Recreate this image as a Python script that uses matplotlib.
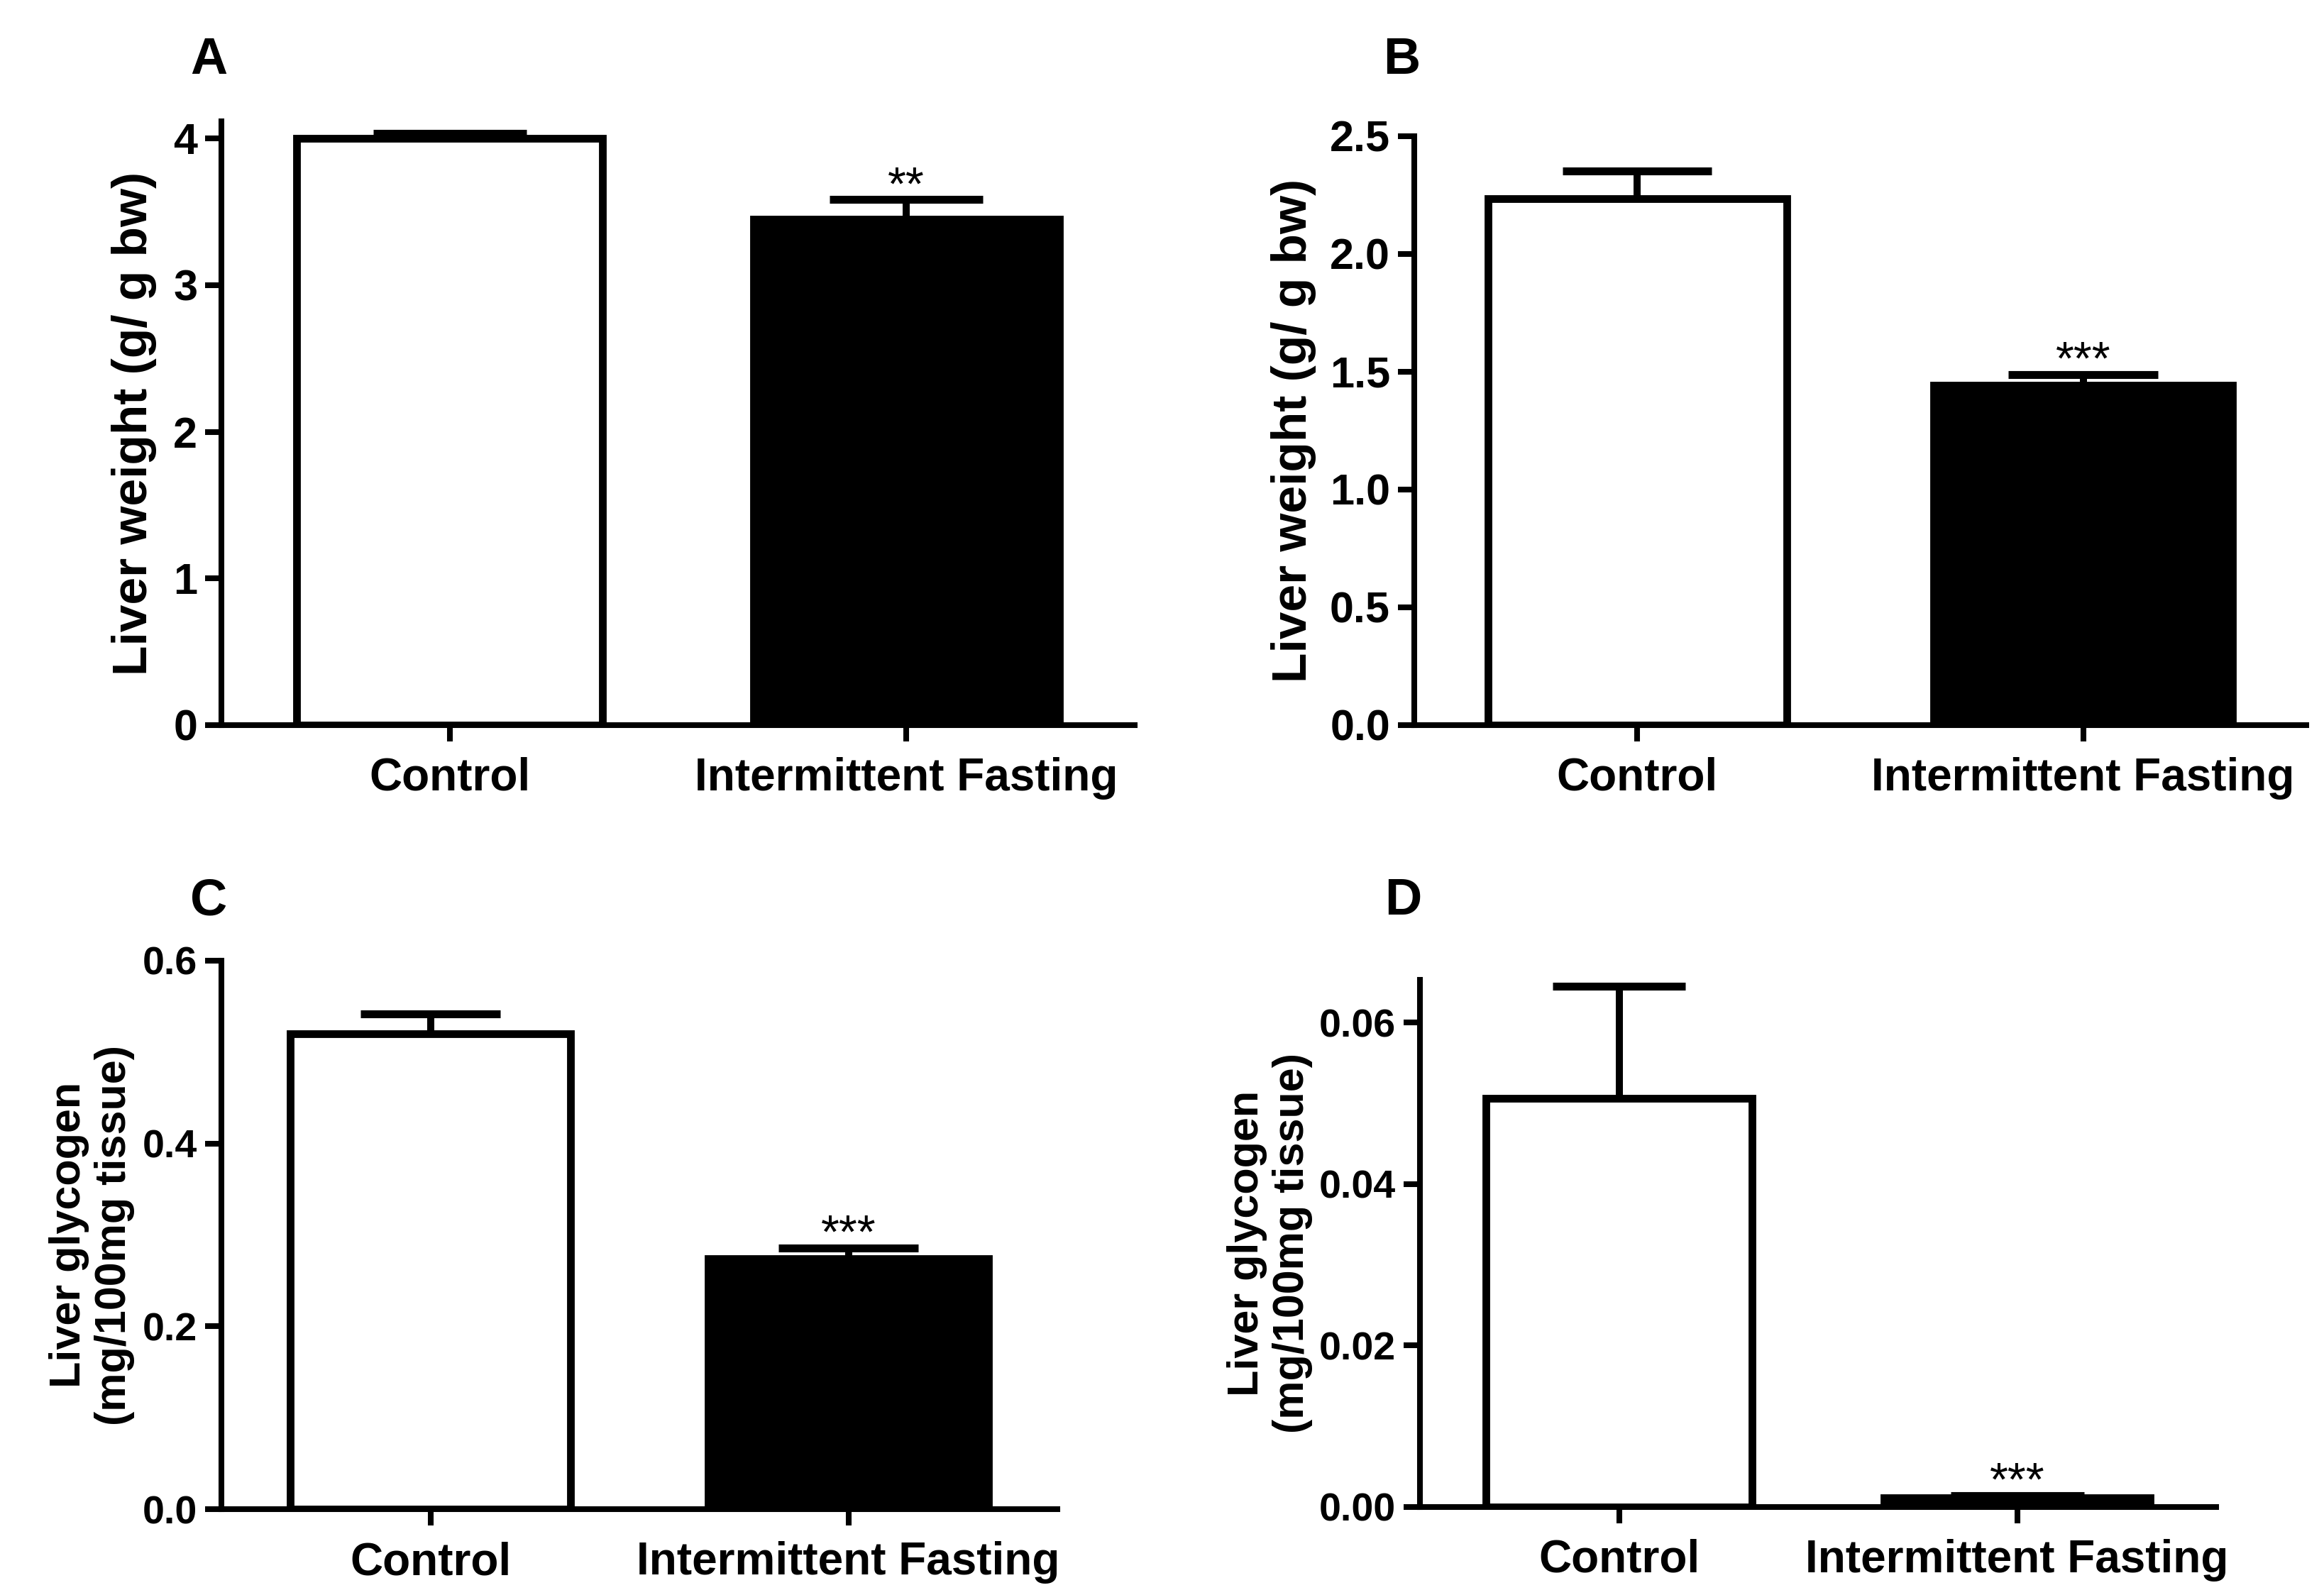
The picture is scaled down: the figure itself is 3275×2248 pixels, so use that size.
import matplotlib as mpl

mpl.use('agg')

import matplotlib.pyplot as plt
from matplotlib.ticker import FormatStrFormatter

plt.rc('font', family = ['Liberation Sans', 'DejaVu Sans'], weight = 'bold')

groups = ['Control', 'Intermittent Fasting']

# panel A: liver weight
a_mean = [4.00, 3.45]
a_sem  = [0.035, 0.135]
a_star = ['', '**']

# panel B: liver weight
b_mean = [2.235, 1.442]
b_sem  = [0.117, 0.047]
b_star = ['', '***']

# panel C: liver glycogen
c_mean = [0.520, 0.274]
c_sem  = [0.022, 0.012]
c_star = ['', '***']

# panel D: liver glycogen
d_mean = [0.0506, 0.0011]
d_sem  = [0.0139, 0.0003]
d_star = ['', '***']

fills = ['white', 'black']
bar_w = 0.67

fig = plt.figure(figsize=(16.375, 11.24), dpi=200)

panels = [
    ('A', [0.0953, 0.5454, 0.3929, 0.3785], a_mean, a_sem, a_star, 4.117,
     [0, 1, 2, 3, 4], '%d', 22, 'Liver weight (g/ g bw)', 25, -0.071, (0.0898, 0.962)),
    ('B', [0.6085, 0.5454, 0.3838, 0.3692], b_mean, b_sem, b_star, 2.5,
     [0.0, 0.5, 1.0, 1.5, 2.0, 2.5], '%.1f', 22, 'Liver weight (g/ g bw)', 25, -0.110, (0.603, 0.962)),
    ('C', [0.0953, 0.0538, 0.3597, 0.3439], c_mean, c_sem, c_star, 0.6,
     [0.0, 0.2, 0.4, 0.6], '%.1f', 20, 'Liver glycogen\n(mg/100mg tissue)', 22, -0.104, (0.0898, 0.435)),
    ('D', [0.6110, 0.0552, 0.3426, 0.3305], d_mean, d_sem, d_star, 0.0653,
     [0.00, 0.02, 0.04, 0.06], '%.2f', 20, 'Liver glycogen\n(mg/100mg tissue)', 22, -0.135, (0.6037, 0.435)),
]

for letter, rect, mean, sem, stars, ytop, yt, fmt, tsize, ylab, ysize, ylx, lpos in panels:
    ax = fig.add_axes(rect)
    x = list(range(len(groups)))
    ax.bar(x, mean, width = bar_w, color = fills, edgecolor = 'black',
           linewidth = 3.9, zorder = 2)
    tops = [m + s for m, s in zip(mean, sem)]
    ax.vlines(x, mean, tops, color = 'black', linewidth = 3.6, zorder = 3)
    ax.hlines(tops, [i - bar_w / 4 for i in x], [i + bar_w / 4 for i in x],
              color = 'black', linewidth = 4.0, zorder = 3)
    for i, s in enumerate(stars):
        if s:
            ax.annotate(s, (x[i], tops[i]), ha = 'center', va = 'baseline',
                        fontsize = 24, fontweight = 'normal')

    ax.set_xlim(-0.5, 1.5)
    ax.set_ylim(0, ytop)
    ax.set_yticks(yt)
    ax.yaxis.set_major_formatter(FormatStrFormatter(fmt))
    ax.set_xticks(x)
    ax.set_xticklabels(groups, fontsize = 23, fontweight = 'bold')
    for lab in ax.get_yticklabels():
        lab.set_fontsize(tsize)
        lab.set_fontweight('bold')

    for side in ['top', 'right']:
        ax.spines[side].set_visible(False)
    for side in ['left', 'bottom']:
        ax.spines[side].set_linewidth(2.9)
    ax.tick_params(axis = 'both', width = 2.9, length = 8.2)
    ax.tick_params(axis = 'x', pad = 8)
    ax.tick_params(axis = 'y', pad = 4)

    ax.set_ylabel(ylab, fontsize = ysize, fontweight = 'bold', linespacing = 1.15)
    ax.yaxis.set_label_coords(ylx, 0.5)

    fig.text(lpos[0], lpos[1], letter, fontsize = 26, fontweight = 'bold',
             ha = 'center', va = 'center')

fig.savefig('out.png', dpi = 200)
